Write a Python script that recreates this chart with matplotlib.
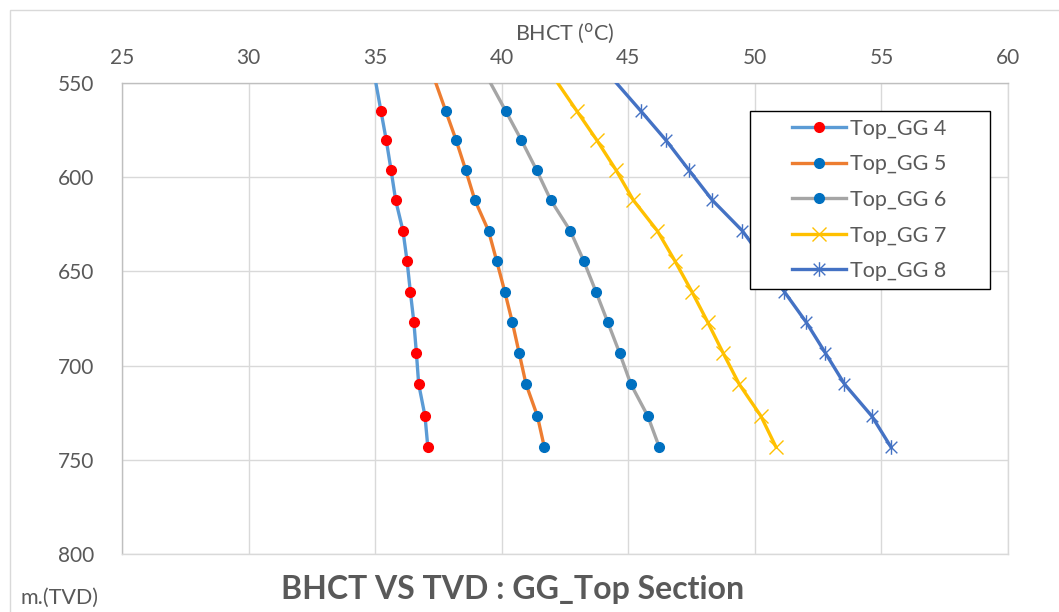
import matplotlib
matplotlib.use("Agg")
import matplotlib.pyplot as plt
from matplotlib.path import Path
from matplotlib.patches import Rectangle

plt.rcParams['font.family'] = ['Lato', 'DejaVu Sans']

# Depth (m TVD); the first depth lies just above the plotted window
depth = [548.6, 564.9, 580.4, 596.3, 612.2, 628.5, 644.4, 660.7, 677.0, 693.4, 709.8, 726.8, 743.1]

# Bottom-hole circulating temperature (deg C) per top section
top_gg4 = [35.01, 35.23, 35.44, 35.63, 35.81, 36.10, 36.26, 36.39, 36.53, 36.63, 36.72, 36.97, 37.08]
top_gg5 = [37.36, 37.79, 38.20, 38.58, 38.94, 39.48, 39.80, 40.12, 40.42, 40.69, 40.96, 41.41, 41.68]
top_gg6 = [39.50, 40.16, 40.78, 41.38, 41.94, 42.71, 43.24, 43.72, 44.19, 44.66, 45.10, 45.77, 46.22]
top_gg7 = [42.14, 42.97, 43.76, 44.52, 45.20, 46.15, 46.84, 47.51, 48.14, 48.75, 49.38, 50.24, 50.83]
top_gg8 = [44.44, 45.50, 46.49, 47.40, 48.32, 49.51, 50.37, 51.16, 52.03, 52.79, 53.54, 54.62, 55.37]

series_names = ['Top_GG 4', 'Top_GG 5', 'Top_GG 6', 'Top_GG 7', 'Top_GG 8']
x_ticks = [25, 30, 35, 40, 45, 50, 55, 60]
y_ticks = [550, 600, 650, 700, 750, 800]

W, H = 1059, 612
fig = plt.figure(figsize=(W / 100, H / 100), dpi=100)


def fx(px):
    return px / W


def fy(py):
    return 1 - py / H


# outer chart border
fig.patches.append(Rectangle((fx(10), -0.05), 1.2, fy(10) + 0.05,
                             transform=fig.transFigure, fill=False,
                             edgecolor='#D9D9D9', linewidth=1.0))

ax = fig.add_axes([fx(122), fy(554), fx(1008 - 122), (554 - 83) / H])

star = Path([(-1, -1), (1, 1), (-1, 1), (1, -1), (0, -1.25), (0, 1.25)],
            [Path.MOVETO, Path.LINETO, Path.MOVETO, Path.LINETO, Path.MOVETO, Path.LINETO])

styles = [
    dict(color='#5B9BD5', marker='o', markersize=7, markerfacecolor='#FF0000', markeredgecolor='#FF0000'),
    dict(color='#ED7D31', marker='o', markersize=7, markerfacecolor='#0070C0', markeredgecolor='#0070C0'),
    dict(color='#A5A5A5', marker='o', markersize=7, markerfacecolor='#0070C0', markeredgecolor='#0070C0'),
    dict(color='#FFC000', marker='x', markersize=10, markeredgecolor='#FFC000', markeredgewidth=1.0),
    dict(color='#4472C4', marker=star, markersize=10.5, markeredgecolor='#4472C4', markeredgewidth=1.0),
]

for vals, name, st in zip([top_gg4, top_gg5, top_gg6, top_gg7, top_gg8], series_names, styles):
    ax.plot(vals, depth, linewidth=2.4, label=name, markevery=slice(1, None),
            solid_joinstyle='round', zorder=3, **st)

ax.set_xlim(25, 60)
ax.set_ylim(800, 550)
ax.set_xticks(x_ticks)
ax.set_yticks(y_ticks)
ax.xaxis.tick_top()
ax.tick_params(axis='both', length=0, labelsize=15, labelcolor='#595959')
ax.tick_params(axis='x', pad=10.5)
ax.tick_params(axis='y', pad=20)
ax.grid(True, color='#D9D9D9', linewidth=1.0, zorder=0)
ax.set_axisbelow(True)
for side in ['top', 'left']:
    ax.spines[side].set_color('#BFBFBF')
    ax.spines[side].set_linewidth(1.0)
for side in ['bottom', 'right']:
    ax.spines[side].set_color('#D9D9D9')
    ax.spines[side].set_linewidth(1.0)

fig.text(fx(565), fy(34), r'BHCT ($^{\mathrm{o}}$C)', ha='center', va='center',
         fontsize=15.5, color='#595959')
fig.text(fx(60), fy(598), 'm.(TVD)', ha='center', va='center',
         fontsize=15.5, color='#595959')
fig.text(fx(513), fy(590), 'BHCT VS TVD : GG_Top Section', ha='center', va='center',
         fontsize=23, fontweight='bold', color='#595959')

# legend frame drawn separately so entries sit centred inside it
ax.add_patch(Rectangle((fx(750), fy(289)), fx(990 - 750), (289 - 111) / H,
                       transform=fig.transFigure, facecolor='white', clip_on=False,
                       edgecolor='black', linewidth=1.0, zorder=4))
leg = ax.legend(loc='upper left', bbox_to_anchor=(fx(792), fy(119)),
                bbox_transform=fig.transFigure, fontsize=15.5, frameon=False,
                handlelength=2.5, labelspacing=0.72, borderpad=0.0, borderaxespad=0.0,
                handletextpad=0.2, labelcolor='#595959')
leg.set_zorder(5)

fig.savefig('out.png', dpi=100)
